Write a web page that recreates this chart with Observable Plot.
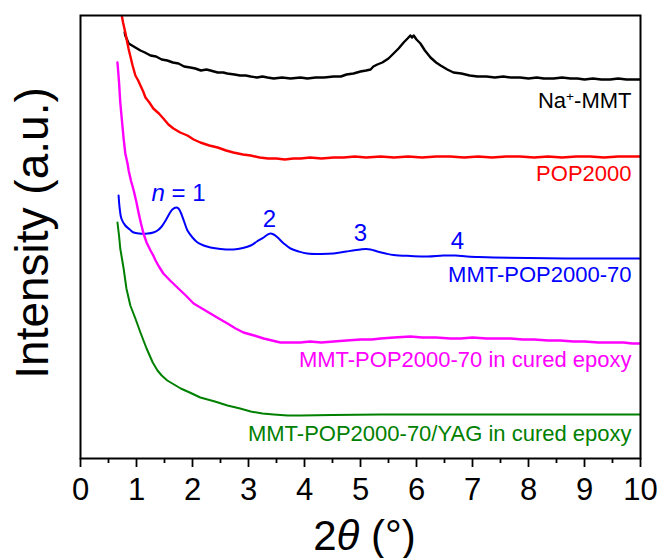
<!DOCTYPE html>
<html><head><meta charset="utf-8">
<script src="https://cdn.jsdelivr.net/npm/d3@7"></script>
<script src="https://cdn.jsdelivr.net/npm/@observablehq/plot@0.6"></script>
<style>body{margin:0;background:#fff} #chart svg{display:block}</style>
</head><body><div id="chart"></div>
<script>
// 2θ (°) vs intensity (a.u., offset curves)
const naMMT = [[0.79,426],[0.80,423],[0.86,415],[0.95,412],[1.07,408],[1.15,406],[1.25,403],[1.35,402],[1.45,399],[1.55,398],[1.65,396],[1.75,395],[1.85,392],[1.96,391],[2.05,390],[2.15,388],[2.25,389],[2.32,388],[2.45,386],[2.55,386],[2.62,385],[2.75,384],[2.85,383],[2.95,383],[3.04,382],[3.15,381],[3.25,382],[3.34,381],[3.45,380],[3.6,381],[3.75,380],[3.93,381],[4.05,380],[4.2,381],[4.35,381],[4.52,382],[4.65,382],[4.75,384],[4.875,385],[5.0,387],[5.1,388],[5.18,389],[5.23,392],[5.3,394],[5.39,396],[5.5,400],[5.59,405],[5.68,410],[5.77,416],[5.84,420],[5.89,423],[5.92,421],[5.95,423],[6.0,419],[6.07,415],[6.15,408],[6.25,401],[6.35,396],[6.43,393],[6.55,389],[6.66,386],[6.8,385],[6.95,383],[7.09,382],[7.25,382],[7.4,381],[7.55,382],[7.68,381],[7.85,381],[8.0,380],[8.15,381],[8.27,380],[8.45,380],[8.6,381],[8.75,380],[8.875,380],[9.0,379],[9.15,380],[9.3,379],[9.46,379],[9.6,380],[9.75,379],[9.9,379],[10,379]];
const pop2000 = [[0.72,448],[0.76,436],[0.80,426],[0.857,410],[0.9,400],[0.93,393],[0.98,383],[1.03,378],[1.07,373],[1.12,367],[1.16,361],[1.23,356],[1.30,350],[1.4,345],[1.48,340],[1.57,334],[1.66,330],[1.78,326],[1.91,323],[2.02,319],[2.14,316],[2.3,313],[2.45,311],[2.6,308],[2.73,306],[2.9,304],[3.04,303],[3.2,301],[3.35,300],[3.5,300],[3.65,299],[3.8,300],[3.93,300],[4.1,301],[4.3,300],[4.52,301],[4.7,301],[4.9,302],[5.1,301],[5.36,302],[5.6,301],[5.85,302],[6.1,301],[6.35,302],[6.6,302],[6.85,301],[7.1,302],[7.35,301],[7.6,302],[7.85,302],[8.1,301],[8.35,302],[8.6,301],[8.85,302],[9.1,302],[9.35,301],[9.6,302],[9.85,302],[10,302]];
const mmtPop70 = [[0.68,263],[0.70,250],[0.73,240],[0.8,233],[0.88,229],[0.95,226],[1.05,225],[1.2,225],[1.3,226],[1.375,228],[1.45,232],[1.52,238],[1.58,244],[1.64,249],[1.71,251],[1.75,250],[1.79,246],[1.85,237],[1.91,228],[2.0,221],[2.09,216],[2.2,213],[2.32,211],[2.5,209.5],[2.73,209],[2.9,210.5],[3.04,213],[3.15,217],[3.27,221],[3.33,223.5],[3.39,225],[3.45,224],[3.52,221],[3.63,215],[3.75,210],[3.9,207],[4.05,205],[4.3,204.5],[4.52,205],[4.75,207],[5.0,209],[5.1,209.5],[5.18,209],[5.3,207],[5.45,205],[5.59,203.5],[5.9,202.5],[6.2,202],[6.48,203],[6.7,203],[6.9,202],[7.1,201.5],[7.375,201],[8,200.5],[9,200],[10,200]];
const mmtPop70Epoxy = [[0.66,396],[0.69,375],[0.71,356],[0.74,338],[0.77,320],[0.80,305],[0.84,295],[0.86,288],[0.9,278],[0.95,268],[1.0,256],[1.04,245],[1.08,235],[1.125,225],[1.18,216],[1.25,208],[1.3,203],[1.34,198],[1.4,192],[1.48,185],[1.6,178],[1.73,171],[1.88,163],[2.02,155],[2.17,150],[2.32,145],[2.47,140],[2.625,135],[2.77,130],[2.91,126],[3.1,123],[3.27,120],[3.42,118],[3.57,116],[3.75,116],[3.93,116],[4.1,117],[4.3,116],[4.52,117],[4.75,118],[5.0,119],[5.2,119],[5.36,120],[5.6,121],[5.89,122],[6.1,121],[6.35,121],[6.6,120],[6.79,120],[7.0,121],[7.25,120],[7.5,120],[7.68,120],[7.9,119],[8.1,119],[8.35,118],[8.57,118],[8.8,117],[9.0,117],[9.25,116],[9.46,116],[9.7,116],[9.85,115],[10,115]];
const mmtPop70Yag = [[0.66,236],[0.69,222],[0.71,210],[0.74,200],[0.77,190],[0.82,170],[0.89,153],[0.98,140],[1.07,126],[1.18,110],[1.29,96],[1.375,88],[1.45,83],[1.55,78],[1.67,74],[1.79,70],[1.95,66],[2.14,61],[2.4,57],[2.625,53],[2.85,50],[3.04,47],[3.25,45],[3.45,44],[3.7,43],[3.93,43],[4.5,43.5],[5.36,44],[6.5,44],[8,44],[10,44]];

const seriesNames = ["Na+-MMT","POP2000","MMT-POP2000-70","MMT-POP2000-70 in cured epoxy","MMT-POP2000-70/YAG in cured epoxy"];
const seriesColors = ["#000000","#ff0000","#0000ff","#ff00ff","#008000"];
const labelX = [10,10,10,10,10];
const labelY = [351,278,177,92,18];
const peakLabels = ["n = 1","2","3","4"];
const peakX = [1.75,3.375,5.0,6.73];
const peakY = [258,232,218,210];
const xTicks = [0,1,2,3,4,5,6,7,8,9,10];
const xMinorTicks = [0.5,1.5,2.5,3.5,4.5,5.5,6.5,7.5,8.5,9.5];
const xTitle = "2θ (°)";
const yTitle = "Intensity (a.u.)";

const seriesData = [naMMT, pop2000, mmtPop70, mmtPop70Epoxy, mmtPop70Yag];
const seriesWidths = [2.4, 2.4, 2, 2.4, 2];

const plot = Plot.plot({
  width: 661, height: 558,
  marginLeft: 80, marginRight: 21, marginTop: 15, marginBottom: 100,
  style: {fontFamily: "'Liberation Sans', Arial, sans-serif", background: "white", color: "black"},
  x: {domain: [0, 10]},
  y: {domain: [0, 443], axis: null},
  color: {domain: seriesNames, range: seriesColors},
  marks: [
    ...seriesData.map((arr, i) => Plot.line(arr, {
      x: d => d[0], y: d => d[1], stroke: seriesColors[i], strokeWidth: seriesWidths[i],
      clip: "frame", curve: i === 2 ? "catmull-rom" : "linear"
    })),
    Plot.axisX(xMinorTicks, {tickSize: 5, tickFormat: () => "", strokeWidth: 1.8, label: null}),
    Plot.axisX(xTicks, {tickSize: 9, tickPadding: 10, fontSize: 31, strokeWidth: 1.8, label: null, tickFormat: d => String(d)}),
    Plot.frame({stroke: "black", strokeWidth: 2}),
    Plot.text(seriesNames, {x: (d, i) => labelX[i], y: (d, i) => labelY[i], text: d => d, fill: d => d,
      textAnchor: "end", lineAnchor: "bottom", dx: -9, fontSize: 22}),
    Plot.text(peakLabels, {x: (d, i) => peakX[i], y: (d, i) => peakY[i], text: d => d, fill: "#0000ff",
      lineAnchor: "bottom", fontSize: 24}),
    Plot.text([xTitle], {frameAnchor: "bottom", text: d => d, textAnchor: "middle", dy: 91, dx: 4, fontSize: 42, lineAnchor: "bottom"}),
    Plot.text([yTitle], {frameAnchor: "left", text: d => d, textAnchor: "middle", rotate: -90, dx: -33, dy: -4, fontSize: 46, lineAnchor: "bottom"})
  ]
});
document.getElementById("chart").appendChild(plot);

// rich-text touches: superscript "+", italic n and θ
d3.select(plot).selectAll("text").each(function() {
  const t = this.textContent;
  if (t === "Na+-MMT") this.innerHTML = 'Na<tspan baseline-shift="super" font-size="62%">+</tspan>-MMT';
  else if (t === "n = 1") this.innerHTML = '<tspan font-style="italic">n</tspan> = 1';
  else if (t === xTitle) this.innerHTML = '2<tspan font-style="italic">θ</tspan> (°)';
});
</script>
</body></html>
